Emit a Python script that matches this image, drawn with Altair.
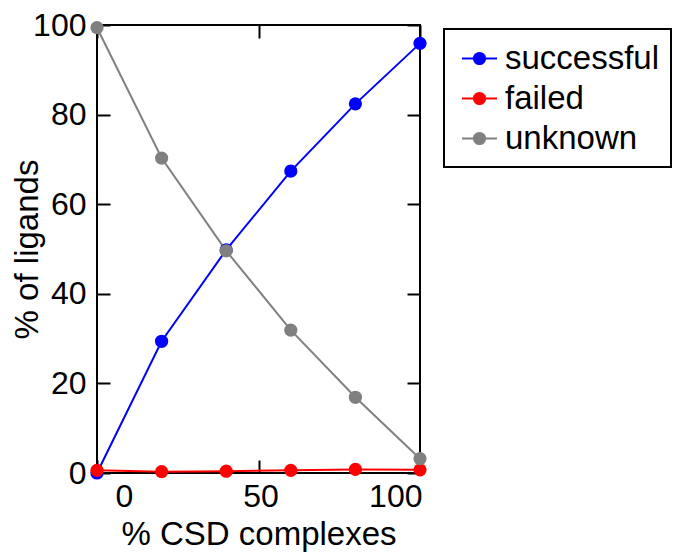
import altair as alt
import pandas as pd

x_vals = [0, 20, 40, 60, 80, 100]
successful = [0.0, 29.4, 49.8, 67.4, 82.4, 95.9]
failed = [0.6, 0.3, 0.4, 0.6, 0.8, 0.7]
unknown = [99.4, 70.3, 49.6, 31.9, 16.9, 3.2]

series_names = ["successful", "failed", "unknown"]
series_colors = ["#0000ff", "#ff0000", "#808080"]
series_widths = [2, 2, 1.6]
x_ticks = [0, 50, 100]
y_ticks = [0, 20, 40, 60, 80, 100]

rows = []
for name, vals in zip(series_names, [successful, failed, unknown]):
    for xv, yv in zip(x_vals, vals):
        rows.append({"x": xv, "value": yv, "series": name})
df = pd.DataFrame(rows)

FONT = "Liberation Sans"
sym_path = "M-1,0L1,0M-0.32,0A0.32,0.32,0,1,1,0.32,0A0.32,0.32,0,1,1,-0.32,0Z"

xscale = alt.Scale(domain=[0, 100], nice=False, zero=False)
yscale = alt.Scale(domain=[0, 100], nice=False, zero=False)

legend = alt.Legend(
    title=None, orient="none", legendX=347, legendY=4,
    symbolType=sym_path, symbolSize=1225, symbolStrokeWidth=2, symbolOffset=6,
    labelFont=FONT, labelFontSize=33, labelColor="black", labelOffset=7,
    padding=11, rowPadding=4, strokeColor="black",
)

line = alt.Chart(df).mark_line().encode(
    x=alt.X("x:Q", scale=xscale, axis=alt.Axis(
        orient="bottom", values=x_ticks, title="% CSD complexes",
        labelPadding=8, titlePadding=6,
        labelOffset={"condition": {"test": "datum.value === 0", "value": 18}, "value": 2},
    )),
    y=alt.Y("value:Q", scale=yscale, axis=alt.Axis(
        orient="left", values=y_ticks, title="% of ligands",
        labelPadding=11, titlePadding=-12,
    )),
    stroke=alt.Stroke("series:N", scale=alt.Scale(domain=series_names, range=series_colors), legend=legend),
    strokeWidth=alt.StrokeWidth("series:N", scale=alt.Scale(domain=series_names, range=series_widths), legend=None),
)

points = alt.Chart(df).mark_point(filled=True, size=175, opacity=1).encode(
    x=alt.X("x:Q", scale=xscale, axis=alt.Axis(orient="top", values=x_ticks, labels=False, title=None)),
    y=alt.Y("value:Q", scale=yscale, axis=alt.Axis(orient="right", values=y_ticks, labels=False, title=None)),
    fill=alt.Fill("series:N", scale=alt.Scale(domain=series_names, range=series_colors), legend=legend),
)

chart = alt.layer(line, points).resolve_axis(
    x="independent", y="independent"
).properties(
    width=323, height=448,
    autosize=alt.AutoSizeParams(type="none"),
    padding={"left": 97, "top": 25, "right": 253, "bottom": 81},
).configure_view(
    stroke="black", strokeWidth=2
).configure_legend(
    strokeColor="black", strokeWidth=2
).configure_axis(
    domain=False, grid=False, ticks=True, tickColor="black", tickWidth=2, tickSize=13, offset=-13,
    labelFont=FONT, labelFontSize=32, labelColor="black",
    titleFont=FONT, titleFontSize=33, titleFontWeight="normal", titleColor="black",
)

chart.save("out.html", embed_options={"renderer": "svg", "actions": False})
